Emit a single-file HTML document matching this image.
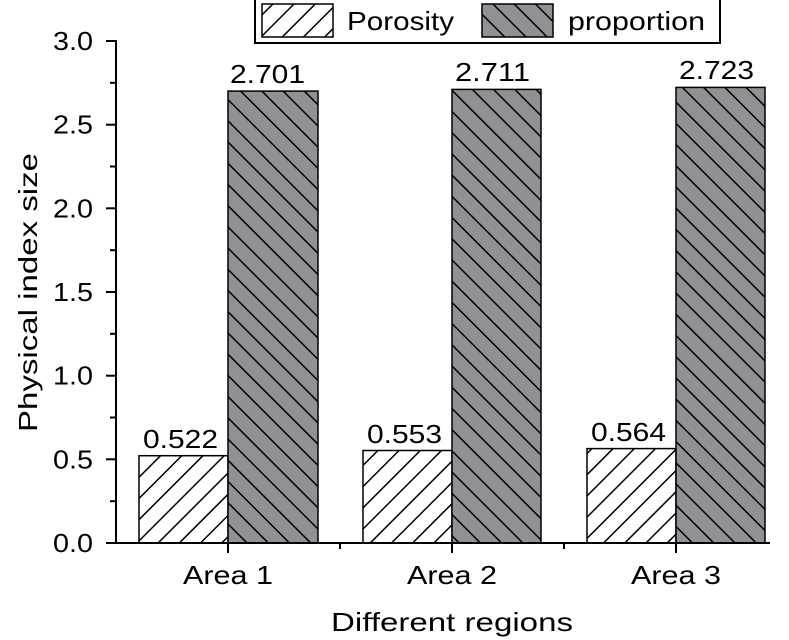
<!DOCTYPE html>
<html><head><meta charset="utf-8"><style>html,body{margin:0;padding:0;background:#fff}svg{display:block}text{font-family:"Liberation Sans",Arial,sans-serif;fill:#000}</style></head><body>
<svg width="789" height="640" viewBox="0 0 789 640" xmlns="http://www.w3.org/2000/svg">
<defs>
<pattern id="hp" patternUnits="userSpaceOnUse" width="15" height="15" patternTransform="rotate(45)">
<rect width="15" height="15" fill="#fff"/><line x1="0" y1="0" x2="0" y2="15" stroke="#000" stroke-width="3"/>
</pattern>
<pattern id="hg" patternUnits="userSpaceOnUse" width="15" height="15" patternTransform="rotate(-45)">
<rect width="15" height="15" fill="#8f9194"/><line x1="0" y1="0" x2="0" y2="15" stroke="#000" stroke-width="3"/>
</pattern>
</defs>
<g stroke="#000" stroke-width="1.5">
<rect x="139" y="455.7" width="89" height="87.3" fill="url(#hp)"/>
<rect x="228" y="91.1" width="90" height="451.9" fill="url(#hg)"/>
<rect x="363" y="450.5" width="89" height="92.5" fill="url(#hp)"/>
<rect x="452" y="89.4" width="89" height="453.6" fill="url(#hg)"/>
<rect x="587" y="448.6" width="89" height="94.4" fill="url(#hp)"/>
<rect x="676" y="87.4" width="89" height="455.6" fill="url(#hg)"/>
</g>
<g stroke="#000" stroke-width="2" fill="none">
<line x1="116" y1="40" x2="116" y2="544"/>
<line x1="115" y1="543" x2="770" y2="543"/>
<line x1="106" y1="41" x2="116" y2="41"/>
<line x1="106" y1="124.7" x2="116" y2="124.7"/>
<line x1="106" y1="208.3" x2="116" y2="208.3"/>
<line x1="106" y1="292" x2="116" y2="292"/>
<line x1="106" y1="375.7" x2="116" y2="375.7"/>
<line x1="106" y1="459.3" x2="116" y2="459.3"/>
<line x1="106" y1="543" x2="116" y2="543"/>
<line x1="110" y1="82.8" x2="116" y2="82.8"/>
<line x1="110" y1="166.5" x2="116" y2="166.5"/>
<line x1="110" y1="250.2" x2="116" y2="250.2"/>
<line x1="110" y1="333.8" x2="116" y2="333.8"/>
<line x1="110" y1="417.5" x2="116" y2="417.5"/>
<line x1="110" y1="501.2" x2="116" y2="501.2"/>
<line x1="228" y1="543" x2="228" y2="553"/>
<line x1="452" y1="543" x2="452" y2="553"/>
<line x1="676" y1="543" x2="676" y2="553"/>
<line x1="340" y1="543" x2="340" y2="549"/>
<line x1="564" y1="543" x2="564" y2="549"/>
</g>
<g font-size="26">
<text x="53" y="50" textLength="40" lengthAdjust="spacingAndGlyphs">3.0</text>
<text x="53" y="133.7" textLength="40" lengthAdjust="spacingAndGlyphs">2.5</text>
<text x="53" y="217.3" textLength="40" lengthAdjust="spacingAndGlyphs">2.0</text>
<text x="53" y="301" textLength="40" lengthAdjust="spacingAndGlyphs">1.5</text>
<text x="53" y="384.7" textLength="40" lengthAdjust="spacingAndGlyphs">1.0</text>
<text x="53" y="468.3" textLength="40" lengthAdjust="spacingAndGlyphs">0.5</text>
<text x="53" y="552" textLength="40" lengthAdjust="spacingAndGlyphs">0.0</text>
<text x="183" y="584" textLength="90" lengthAdjust="spacingAndGlyphs">Area 1</text>
<text x="407" y="584" textLength="90" lengthAdjust="spacingAndGlyphs">Area 2</text>
<text x="631" y="584" textLength="90" lengthAdjust="spacingAndGlyphs">Area 3</text>
<text x="143" y="448" textLength="75" lengthAdjust="spacingAndGlyphs">0.522</text>
<text x="230" y="83" textLength="75" lengthAdjust="spacingAndGlyphs">2.701</text>
<text x="367" y="443" textLength="75" lengthAdjust="spacingAndGlyphs">0.553</text>
<text x="455" y="81" textLength="75" lengthAdjust="spacingAndGlyphs">2.711</text>
<text x="591" y="441" textLength="75" lengthAdjust="spacingAndGlyphs">0.564</text>
<text x="679" y="79" textLength="75" lengthAdjust="spacingAndGlyphs">2.723</text>
<text x="331" y="631" textLength="242" lengthAdjust="spacingAndGlyphs">Different regions</text>
<text transform="translate(37,432) rotate(-90)" textLength="279" lengthAdjust="spacingAndGlyphs">Physical index size</text>
</g>
<rect x="255" y="-2" width="465" height="45" fill="#fff" stroke="#000" stroke-width="2"/>
<rect x="262" y="4" width="71" height="33" fill="url(#hp)" stroke="#000" stroke-width="1.5"/>
<rect x="482" y="4" width="71" height="33" fill="url(#hg)" stroke="#000" stroke-width="1.5"/>
<text x="347" y="30" font-size="26" textLength="107" lengthAdjust="spacingAndGlyphs">Porosity</text>
<text x="568" y="30" font-size="26" textLength="137" lengthAdjust="spacingAndGlyphs">proportion</text>
</svg>
</body></html>
